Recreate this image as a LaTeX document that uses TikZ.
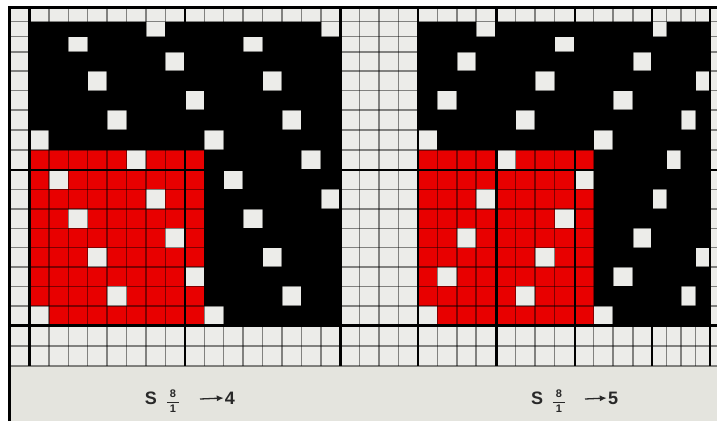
\documentclass[tikz,border=0pt]{standalone}
\usepackage{fontspec}
\setmainfont{Liberation Sans}
\usetikzlibrary{arrows.meta}

\definecolor{cellwhite}{RGB}{236,236,233}
\definecolor{pagegray}{RGB}{228,228,222}
\definecolor{weavered}{RGB}{232,0,0}
\definecolor{inkgray}{RGB}{40,40,40}

\tikzset{
  thinline/.style={draw=black, draw opacity=0.45, line width=1.4pt},
  thickline/.style={draw=black, line width=2.4pt},
  drafttext/.style={text=inkgray, inner sep=0pt, font=\fontsize{18}{18}\selectfont\bfseries},
  fractext/.style={text=inkgray, inner sep=0pt, font=\fontsize{11}{11}\selectfont\bfseries},
  stepline/.style={-{Latex[length=7pt,width=6pt]}, draw=inkgray, line width=1.3pt},
}

% column and row borders of the point paper
\def\xs{{9,29.4,48.8,68.3,87.7,107.1,126.6,146.0,165.4,184.9,204.3,223.7,243.1,262.6,282.0,301.4,320.9,340.3,359.7,379.1,398.6,418.0,437.4,457.0,476.0,496.5,515.5,535.0,554.5,575.0,593.5,613.0,633.0,652.0,666.5,681.0,695.5,710.0,724.5}}
\def\ys{{7,21.5,36.5,52,71,90.5,110,130,150,170,189.4,208.8,228.2,247.6,267,286.4,305.8,325.5,346,366}}

\newcommand{\cellfill}[3]{%
  \pgfmathtruncatemacro\nxi{#1+1}\pgfmathtruncatemacro\nyi{#2+1}%
  \pgfmathsetmacro\cxa{\xs[#1]}\pgfmathsetmacro\cxb{\xs[\nxi]}%
  \pgfmathsetmacro\cya{\ys[#2]}\pgfmathsetmacro\cyb{\ys[\nyi]}%
  \fill[#3] (\cxa,\cya) rectangle (\cxb,\cyb);}
\newcommand{\satinfrac}{$\displaystyle\frac{\mbox{\hspace{3pt}8\hspace{3pt}}}{\mbox{1}}$}

\begin{document}
\begin{tikzpicture}[x=1pt, y=-1pt]
	\useasboundingbox (0,0) rectangle (717,421);
	\fill[white] (0,0) rectangle (717,421);
	\fill[pagegray] (9,7) rectangle (717,421);
	\fill[cellwhite] (9,7) rectangle (717,366);

	% warp ground and the red repeat
	\fill[black] (29.4,21.5) rectangle (340.3,325.5);
	\fill[black] (418,21.5) rectangle (710,325.5);
	\fill[weavered] (29.4,150) rectangle (204.3,325.5);
	\fill[weavered] (418,150) rectangle (593.5,325.5);

	% weft floats, step 4 and step 5
	\foreach \r in {0,...,15}{
		\pgfmathtruncatemacro\rowi{\r+1}
		\pgfmathtruncatemacro\ca{1+mod(6+5*\r,9)}
		\pgfmathtruncatemacro\cb{21+mod(3+4*\r,9)}
		\pgfmathtruncatemacro\caa{\ca+9}
		\pgfmathtruncatemacro\cbb{\cb+9}
		\cellfill{\ca}{\rowi}{cellwhite}
		\cellfill{\cb}{\rowi}{cellwhite}
		\ifnum\ca<8 \cellfill{\caa}{\rowi}{cellwhite}\fi
		\ifnum\cb<28 \cellfill{\cbb}{\rowi}{cellwhite}\fi
	}

	% grid
	\foreach \i in {1,...,37}{
		\pgfmathsetmacro\gx{\xs[\i]}
		\draw[thinline] (\gx,7) -- (\gx,366);
	}
	\foreach \j in {1,...,19}{
		\pgfmathsetmacro\gy{\ys[\j]}
		\draw[thinline] (9,\gy) -- (717,\gy);
	}
	\foreach \i in {1,9,17,21,25,29,33,37}{
		\pgfmathsetmacro\gx{\xs[\i]}
		\draw[thickline] (\gx,7) -- (\gx,366);
	}
	\foreach \j in {9,17}{
		\pgfmathsetmacro\gy{\ys[\j]}
		\draw[thickline] (9,\gy) -- (717,\gy);
	}
	\draw[black, line width=3pt] (9,421) -- (9,7) -- (717,7);

	% captions
	\node (s4) [drafttext] at (151,398) {S};
	\node (f4) [fractext] at (173,401) {\satinfrac};
	\coordinate (a4) at (200,399);
	\node (n4) [drafttext] at (230,398) {4};

	\node (s5) [drafttext] at (537,398) {S};
	\node (f5) [fractext] at (559,401) {\satinfrac};
	\coordinate (a5) at (585,399);
	\node (n5) [drafttext] at (613,398) {5};

	\draw[stepline] (a4) -- ([xshift=-1pt]n4.west);
	\draw[stepline] (a5) -- ([xshift=-1pt]n5.west);

\end{tikzpicture}
\end{document}
